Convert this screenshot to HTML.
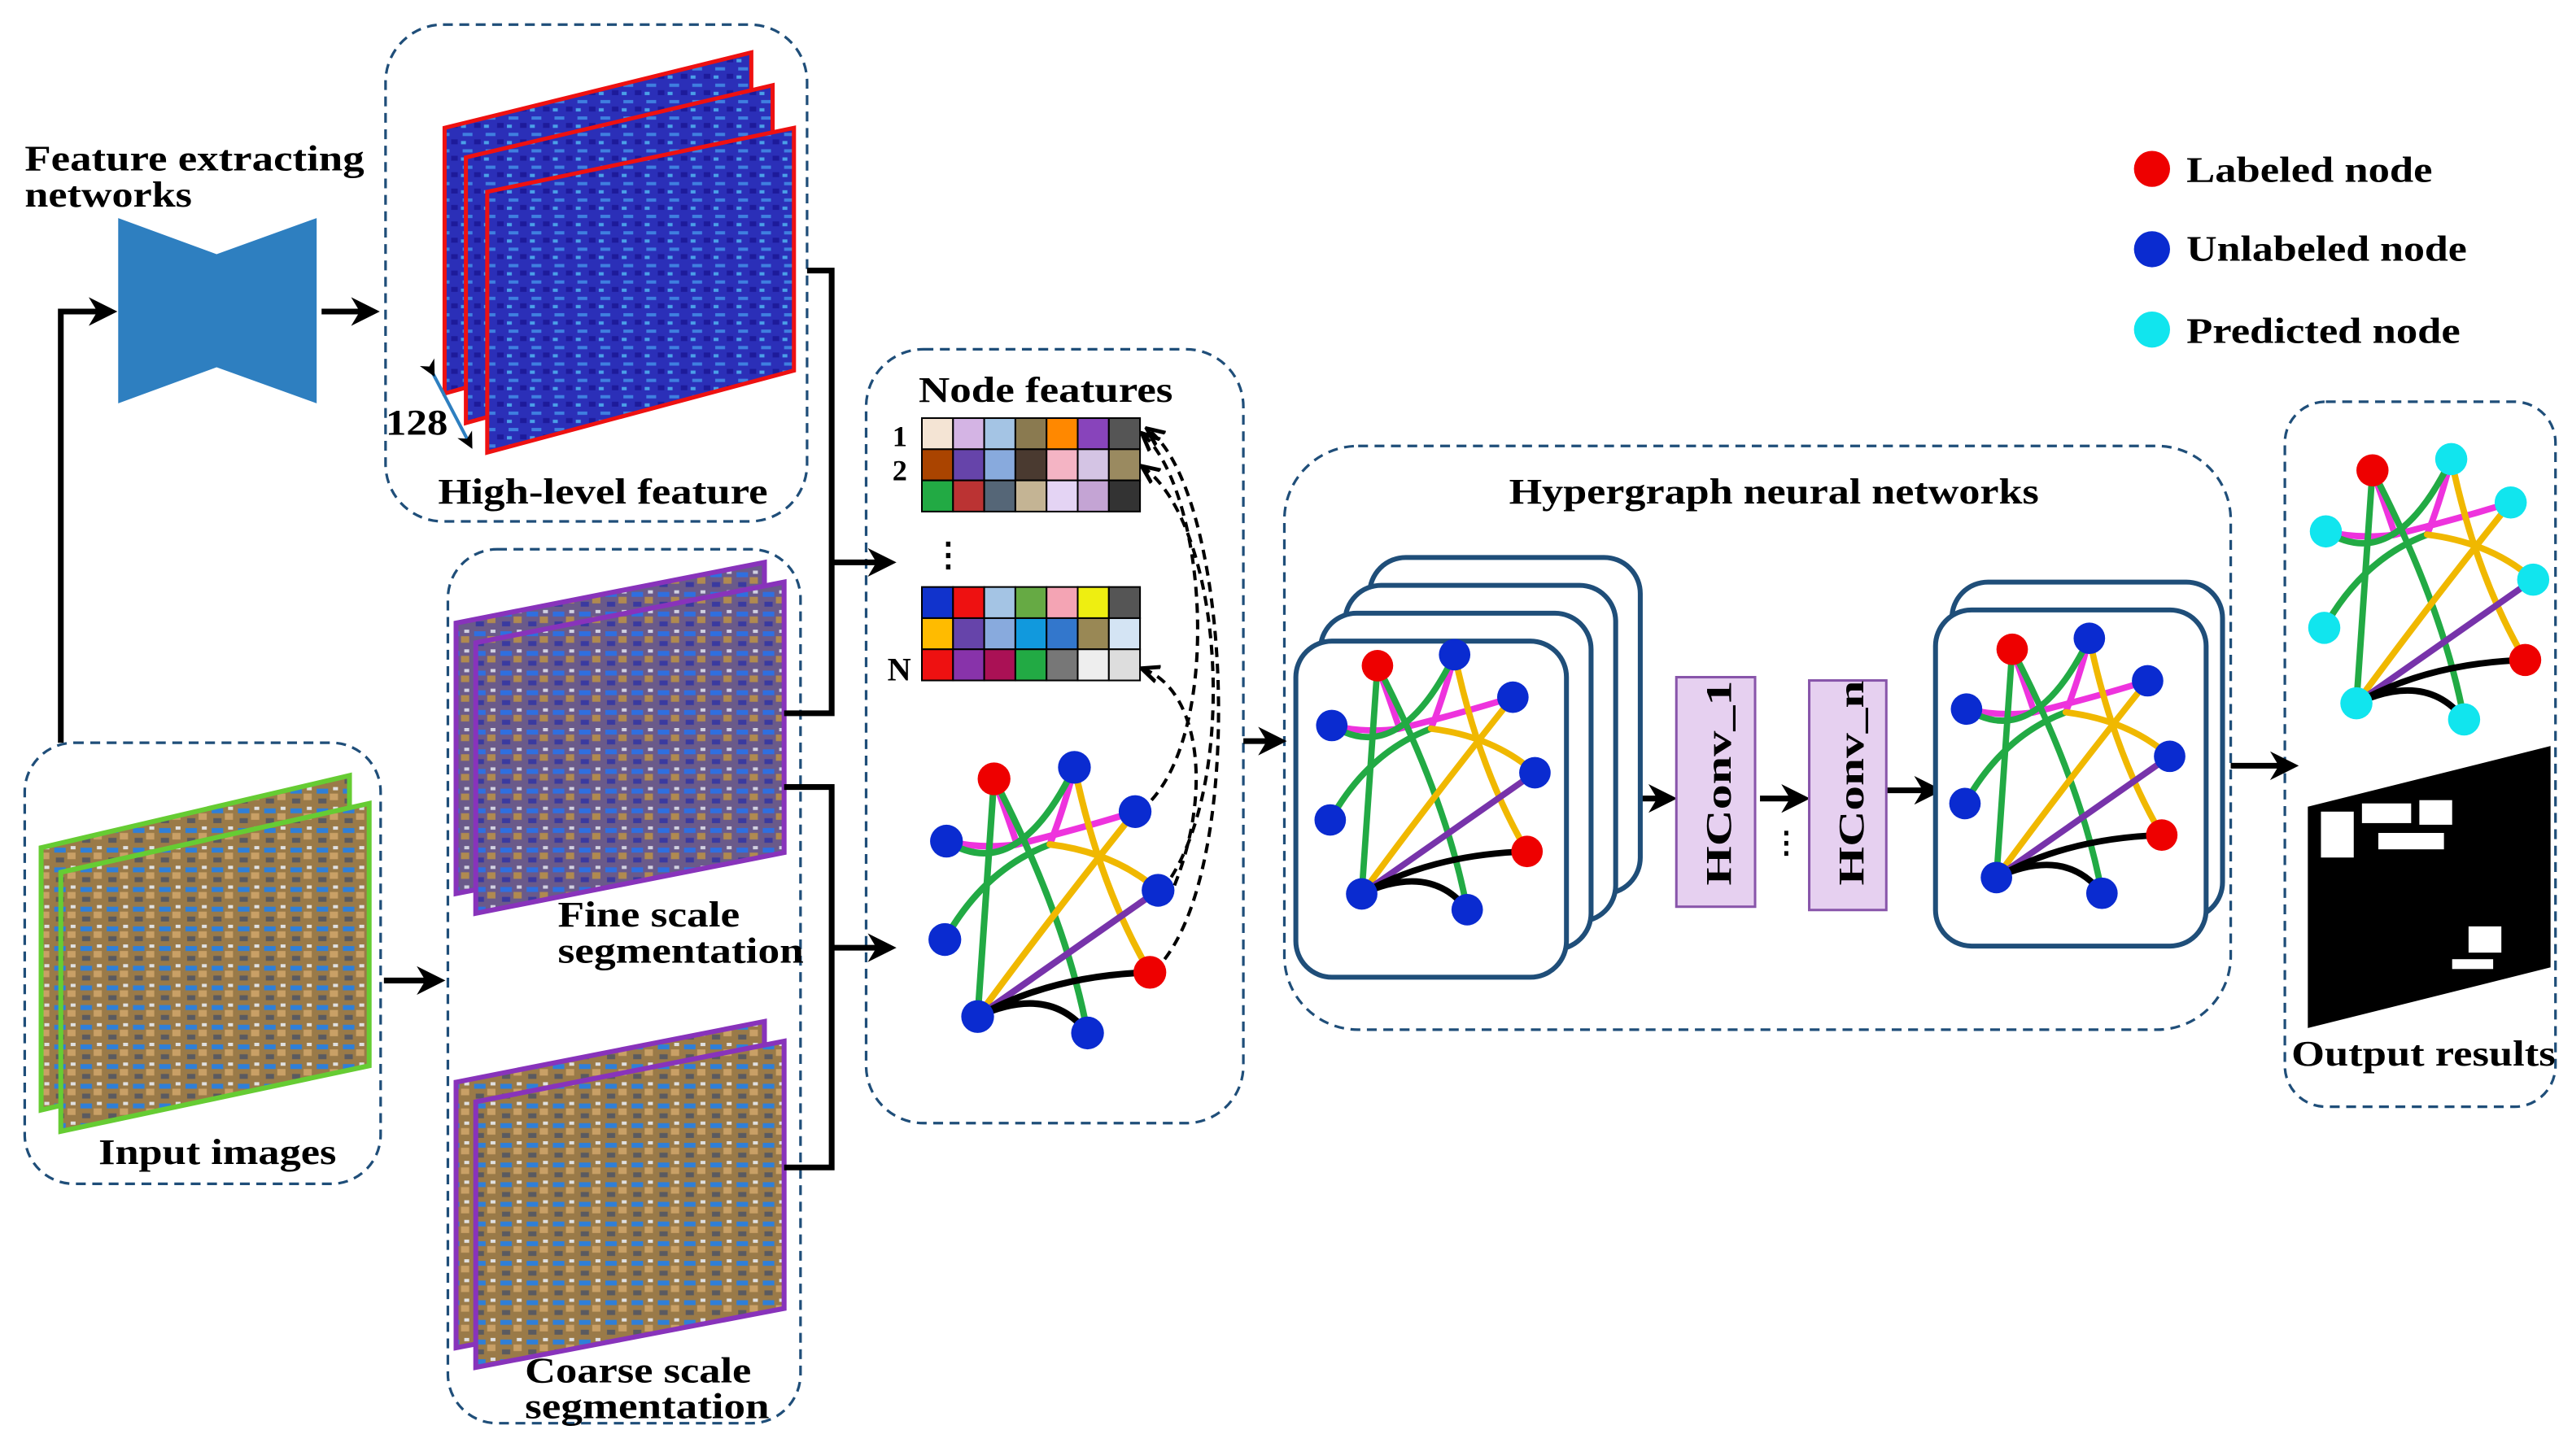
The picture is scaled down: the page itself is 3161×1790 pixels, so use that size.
<!DOCTYPE html>
<html><head><meta charset="utf-8"><style>
html,body{margin:0;padding:0;background:#fff;}
svg{display:block;}
text{font-family:"Liberation Serif",serif;font-weight:bold;fill:#000;}
</style></head><body>
<svg width="3161" height="1790" viewBox="0 0 1568 888" xmlns="http://www.w3.org/2000/svg">
<defs>
<marker id="ah" viewBox="0 0 10 10" refX="8" refY="5" markerWidth="5" markerHeight="5" orient="auto"><path d="M0,0 L10,5 L0,10 L3,5z" fill="#000"/></marker>
<marker id="ah2" viewBox="0 0 10 10" refX="8" refY="5" markerWidth="6" markerHeight="6" orient="auto"><path d="M0,1 L9,5 L0,9" fill="none" stroke="#000" stroke-width="2"/></marker>
<pattern id="feat" width="14" height="10" patternUnits="userSpaceOnUse"><rect width="14" height="10" fill="#2b2fb8"/><rect x="2" y="1" width="6" height="2" fill="#3f7fe0"/><rect x="9" y="5" width="4" height="3" fill="#1d1a9a"/><rect x="1" y="6" width="3" height="2" fill="#4aa0e8"/></pattern>
<pattern id="photo" width="16" height="12" patternUnits="userSpaceOnUse"><rect width="16" height="12" fill="#9a7a48"/><rect x="1" y="1" width="7" height="3" fill="#2f7fd8"/><rect x="9" y="4" width="5" height="4" fill="#c9a066"/><rect x="2" y="7" width="5" height="3" fill="#5a5a60"/><rect x="11" y="0" width="3" height="2" fill="#e0e0e0"/></pattern>
<pattern id="photoB" width="16" height="12" patternUnits="userSpaceOnUse"><rect width="16" height="12" fill="#6a5a8a"/><rect x="1" y="1" width="7" height="3" fill="#2f6fe0"/><rect x="9" y="4" width="5" height="4" fill="#b08a50"/><rect x="2" y="7" width="5" height="3" fill="#3a3aa0"/><rect x="11" y="0" width="3" height="2" fill="#d0d0e0"/></pattern>
<g id="graph">
 <g fill="none" stroke-width="4" stroke-linecap="round">
  <path d="M606,475 Q615,500 620,515 Q660,505 692,495" stroke="#ee33dd"/>
  <path d="M655,468 Q648,495 640,515" stroke="#ee33dd"/>
  <path d="M577,513 Q598,518 620,515" stroke="#ee33dd"/>
  <path d="M577,513 Q620,540 655,468" stroke="#22aa44"/>
  <path d="M576,573 Q600,530 640,515" stroke="#22aa44"/>
  <path d="M606,475 Q600,560 596,620" stroke="#22aa44"/>
  <path d="M606,475 Q650,560 663,630" stroke="#22aa44"/>
  <path d="M692,495 Q640,560 596,620" stroke="#f0b800"/>
  <path d="M655,468 Q670,540 701,593" stroke="#f0b800"/>
  <path d="M640,515 Q680,520 706,543" stroke="#f0b800"/>
  <path d="M596,620 L706,543" stroke="#7733aa"/>
  <path d="M596,620 Q640,595 701,593" stroke="#000"/>
  <path d="M596,620 Q640,600 663,630" stroke="#000"/>
 </g>
 <circle cx="606" cy="475" r="10" fill="#ee0000"/>
 <circle cx="655" cy="468" r="10" fill="#0a2bd0"/>
 <circle cx="692" cy="495" r="10" fill="#0a2bd0"/>
 <circle cx="577" cy="513" r="10" fill="#0a2bd0"/>
 <circle cx="706" cy="543" r="10" fill="#0a2bd0"/>
 <circle cx="576" cy="573" r="10" fill="#0a2bd0"/>
 <circle cx="701" cy="593" r="10" fill="#ee0000"/>
 <circle cx="596" cy="620" r="10" fill="#0a2bd0"/>
 <circle cx="663" cy="630" r="10" fill="#0a2bd0"/>
</g>
</defs>

<g fill="none" stroke="#1f4e79" stroke-width="1.6" stroke-dasharray="6,4">
 <rect x="235" y="15" width="257" height="303" rx="35"/>
 <rect x="273" y="335" width="215" height="533" rx="30"/>
 <rect x="15" y="453" width="217" height="269" rx="30"/>
 <rect x="528" y="213" width="230" height="472" rx="35"/>
 <rect x="783" y="272" width="577" height="356" rx="45"/>
 <rect x="1393" y="245" width="165" height="430" rx="25"/>
</g>

<path d="M72,133 L132,155 L193,133 L193,246 L132,224 L72,246z" fill="#2e7fc0"/>
<text x="15" y="104" font-size="22" textLength="207" lengthAdjust="spacingAndGlyphs">Feature extracting</text>
<text x="15" y="126" font-size="22" textLength="102" lengthAdjust="spacingAndGlyphs">networks</text>

<g stroke="#ee1111" stroke-width="2.5">
 <path d="M271,78 L458,32 L458,188 L271,240z" fill="url(#feat)"/>
 <path d="M284,96 L471,52 L471,206 L284,258z" fill="url(#feat)"/>
 <path d="M297,117 L484,78 L484,226 L297,276z" fill="url(#feat)"/>
</g>
<path d="M264,228 L287,272" stroke="#2e7fc0" stroke-width="2" marker-start="url(#ah)" marker-end="url(#ah)"/>
<text x="235" y="265" font-size="22" textLength="38" lengthAdjust="spacingAndGlyphs">128</text>
<text x="267" y="307" font-size="22" textLength="201" lengthAdjust="spacingAndGlyphs">High-level feature</text>

<g stroke="#66cc33" stroke-width="3">
 <path d="M25,517 L213,473 L213,633 L25,677z" fill="url(#photo)"/>
 <path d="M37,532 L225,490 L225,650 L37,690z" fill="url(#photo)"/>
</g>
<text x="60" y="710" font-size="22" textLength="145" lengthAdjust="spacingAndGlyphs">Input images</text>

<g stroke="#8833bb" stroke-width="3">
 <path d="M278,380 L466,343 L466,508 L278,545z" fill="url(#photoB)"/>
 <path d="M290,392 L478,355 L478,520 L290,557z" fill="url(#photoB)"/>
 <path d="M278,660 L466,623 L466,786 L278,822z" fill="url(#photo)"/>
 <path d="M290,672 L478,635 L478,798 L290,834z" fill="url(#photo)"/>
</g>
<text x="340" y="565" font-size="22" textLength="111" lengthAdjust="spacingAndGlyphs">Fine scale</text>
<text x="340" y="587" font-size="22" textLength="150" lengthAdjust="spacingAndGlyphs">segmentation</text>
<text x="320" y="843" font-size="22" textLength="138" lengthAdjust="spacingAndGlyphs">Coarse scale</text>
<text x="320" y="865" font-size="22" textLength="149" lengthAdjust="spacingAndGlyphs">segmentation</text>

<g fill="none" stroke="#000" stroke-width="3.5">
 <path d="M37,453 L37,190 L68,190" marker-end="url(#ah)"/>
 <path d="M196,190 L228,190" marker-end="url(#ah)"/>
 <path d="M492,165 L507,165 L507,435 L478,435"/>
 <path d="M507,343 L543,343" marker-end="url(#ah)"/>
 <path d="M478,480 L507,480 L507,712 L478,712"/>
 <path d="M507,578 L543,578" marker-end="url(#ah)"/>
 <path d="M234,598 L268,598" marker-end="url(#ah)"/>
 <path d="M758,452 L781,452" marker-end="url(#ah)"/>
 <path d="M985,487 L1019,487" marker-end="url(#ah)"/>
 <path d="M1073,487 L1100,487" marker-end="url(#ah)"/>
 <path d="M1150,482 L1181,482" marker-end="url(#ah)"/>
 <path d="M1360,467 L1398,467" marker-end="url(#ah)"/>
</g>

<text x="560" y="245" font-size="22" textLength="155" lengthAdjust="spacingAndGlyphs">Node features</text>
<text x="544" y="272" font-size="18">1</text>
<text x="544" y="293" font-size="18">2</text>
<text x="568" y="345" font-size="20">⋮</text>
<text x="541" y="415" font-size="20">N</text>
<g stroke="#000" stroke-width="1">
 <rect x="562" y="255" width="19" height="19" fill="#f4e4d4"/><rect x="581" y="255" width="19" height="19" fill="#d4b4e4"/><rect x="600" y="255" width="19" height="19" fill="#a4c4e4"/><rect x="619" y="255" width="19" height="19" fill="#8a7a50"/><rect x="638" y="255" width="19" height="19" fill="#ff8800"/><rect x="657" y="255" width="19" height="19" fill="#8844bb"/><rect x="676" y="255" width="19" height="19" fill="#555"/>
 <rect x="562" y="274" width="19" height="19" fill="#aa4400"/><rect x="581" y="274" width="19" height="19" fill="#6644aa"/><rect x="600" y="274" width="19" height="19" fill="#88aadd"/><rect x="619" y="274" width="19" height="19" fill="#4a3a30"/><rect x="638" y="274" width="19" height="19" fill="#f4b4c4"/><rect x="657" y="274" width="19" height="19" fill="#d4c4e4"/><rect x="676" y="274" width="19" height="19" fill="#9a8a60"/>
 <rect x="562" y="293" width="19" height="19" fill="#22aa44"/><rect x="581" y="293" width="19" height="19" fill="#bb3333"/><rect x="600" y="293" width="19" height="19" fill="#556677"/><rect x="619" y="293" width="19" height="19" fill="#c4b494"/><rect x="638" y="293" width="19" height="19" fill="#e4d4f4"/><rect x="657" y="293" width="19" height="19" fill="#c4a4d4"/><rect x="676" y="293" width="19" height="19" fill="#333"/>
 <rect x="562" y="358" width="19" height="19" fill="#1133cc"/><rect x="581" y="358" width="19" height="19" fill="#ee1111"/><rect x="600" y="358" width="19" height="19" fill="#a4c4e4"/><rect x="619" y="358" width="19" height="19" fill="#66aa44"/><rect x="638" y="358" width="19" height="19" fill="#f4a4b4"/><rect x="657" y="358" width="19" height="19" fill="#eeee11"/><rect x="676" y="358" width="19" height="19" fill="#555"/>
 <rect x="562" y="377" width="19" height="19" fill="#ffbb00"/><rect x="581" y="377" width="19" height="19" fill="#6644aa"/><rect x="600" y="377" width="19" height="19" fill="#88aadd"/><rect x="619" y="377" width="19" height="19" fill="#1199dd"/><rect x="638" y="377" width="19" height="19" fill="#3377cc"/><rect x="657" y="377" width="19" height="19" fill="#998855"/><rect x="676" y="377" width="19" height="19" fill="#d4e4f4"/>
 <rect x="562" y="396" width="19" height="19" fill="#ee1111"/><rect x="581" y="396" width="19" height="19" fill="#8833aa"/><rect x="600" y="396" width="19" height="19" fill="#aa1155"/><rect x="619" y="396" width="19" height="19" fill="#22aa44"/><rect x="638" y="396" width="19" height="19" fill="#777"/><rect x="657" y="396" width="19" height="19" fill="#eee"/><rect x="676" y="396" width="19" height="19" fill="#ddd"/>
</g>
<use href="#graph"/>
<g fill="none" stroke="#000" stroke-width="2" stroke-dasharray="6,4">
 <path d="M702,488 C745,440 735,300 697,265" marker-end="url(#ah2)"/>
 <path d="M714,535 C755,470 745,320 697,285" marker-end="url(#ah2)"/>
 <path d="M710,585 C760,520 750,300 700,262" marker-end="url(#ah2)"/>
 <path d="M716,540 C740,480 730,420 697,408" marker-end="url(#ah2)"/>
</g>

<text x="920" y="307" font-size="22" textLength="323" lengthAdjust="spacingAndGlyphs">Hypergraph neural networks</text>
<g fill="#fff" stroke="#1f4e79" stroke-width="3">
 <rect x="835" y="340" width="165" height="205" rx="22"/>
 <rect x="820" y="357" width="165" height="205" rx="22"/>
 <rect x="805" y="374" width="165" height="205" rx="22"/>
 <rect x="790" y="391" width="165" height="205" rx="22"/>
 <rect x="1190" y="355" width="165" height="205" rx="22"/>
 <rect x="1180" y="372" width="165" height="205" rx="22"/>
</g>
<use href="#graph" transform="translate(258,-50) scale(0.96)"/>
<use href="#graph" transform="translate(645,-60) scale(0.96)"/>
<g fill="#e6d0f0" stroke="#8855aa" stroke-width="1.5">
 <rect x="1022" y="413" width="48" height="140"/>
 <rect x="1103" y="415" width="47" height="140"/>
</g>
<text transform="translate(1055,540) rotate(-90)" font-size="22" textLength="125" lengthAdjust="spacingAndGlyphs">HConv_1</text>
<text transform="translate(1136,540) rotate(-90)" font-size="22" textLength="125" lengthAdjust="spacingAndGlyphs">HConv_n</text>
<text x="1080" y="520" font-size="18">⋮</text>

<g transform="translate(1418,280) scale(0.98) translate(-577,-468)">
 <g fill="none" stroke-width="4" stroke-linecap="round">
  <path d="M606,475 Q615,500 620,515 Q660,505 692,495" stroke="#ee33dd"/>
  <path d="M655,468 Q648,495 640,515" stroke="#ee33dd"/>
  <path d="M577,513 Q598,518 620,515" stroke="#ee33dd"/>
  <path d="M577,513 Q620,540 655,468" stroke="#22aa44"/>
  <path d="M576,573 Q600,530 640,515" stroke="#22aa44"/>
  <path d="M606,475 Q600,560 596,620" stroke="#22aa44"/>
  <path d="M606,475 Q650,560 663,630" stroke="#22aa44"/>
  <path d="M692,495 Q640,560 596,620" stroke="#f0b800"/>
  <path d="M655,468 Q670,540 701,593" stroke="#f0b800"/>
  <path d="M640,515 Q680,520 706,543" stroke="#f0b800"/>
  <path d="M596,620 L706,543" stroke="#7733aa"/>
  <path d="M596,620 Q640,595 701,593" stroke="#000"/>
  <path d="M596,620 Q640,600 663,630" stroke="#000"/>
 </g>
 <g fill="#11e5ee"><circle cx="655" cy="468" r="10"/><circle cx="692" cy="495" r="10"/><circle cx="577" cy="513" r="10"/><circle cx="706" cy="543" r="10"/><circle cx="576" cy="573" r="10"/><circle cx="596" cy="620" r="10"/><circle cx="663" cy="630" r="10"/></g>
 <circle cx="606" cy="475" r="10" fill="#ee0000"/><circle cx="701" cy="593" r="10" fill="#ee0000"/>
</g>
<path d="M1407,492 L1555,455 L1555,590 L1407,627z" fill="#000"/>
<g fill="#fff"><rect x="1415" y="495" width="20" height="28"/><rect x="1440" y="490" width="30" height="12"/><rect x="1450" y="508" width="40" height="10"/><rect x="1475" y="488" width="20" height="15"/><rect x="1505" y="565" width="20" height="16"/><rect x="1495" y="585" width="25" height="6"/></g>
<text x="1397" y="650" font-size="22" textLength="161" lengthAdjust="spacingAndGlyphs">Output results</text>

<circle cx="1312" cy="103" r="11" fill="#ee0000"/>
<circle cx="1312" cy="152" r="11" fill="#0a2bd0"/>
<circle cx="1312" cy="201" r="11" fill="#11e5ee"/>
<text x="1333" y="111" font-size="22" textLength="150" lengthAdjust="spacingAndGlyphs">Labeled node</text>
<text x="1333" y="159" font-size="22" textLength="171" lengthAdjust="spacingAndGlyphs">Unlabeled node</text>
<text x="1333" y="209" font-size="22" textLength="167" lengthAdjust="spacingAndGlyphs">Predicted node</text>
</svg>
</body></html>
